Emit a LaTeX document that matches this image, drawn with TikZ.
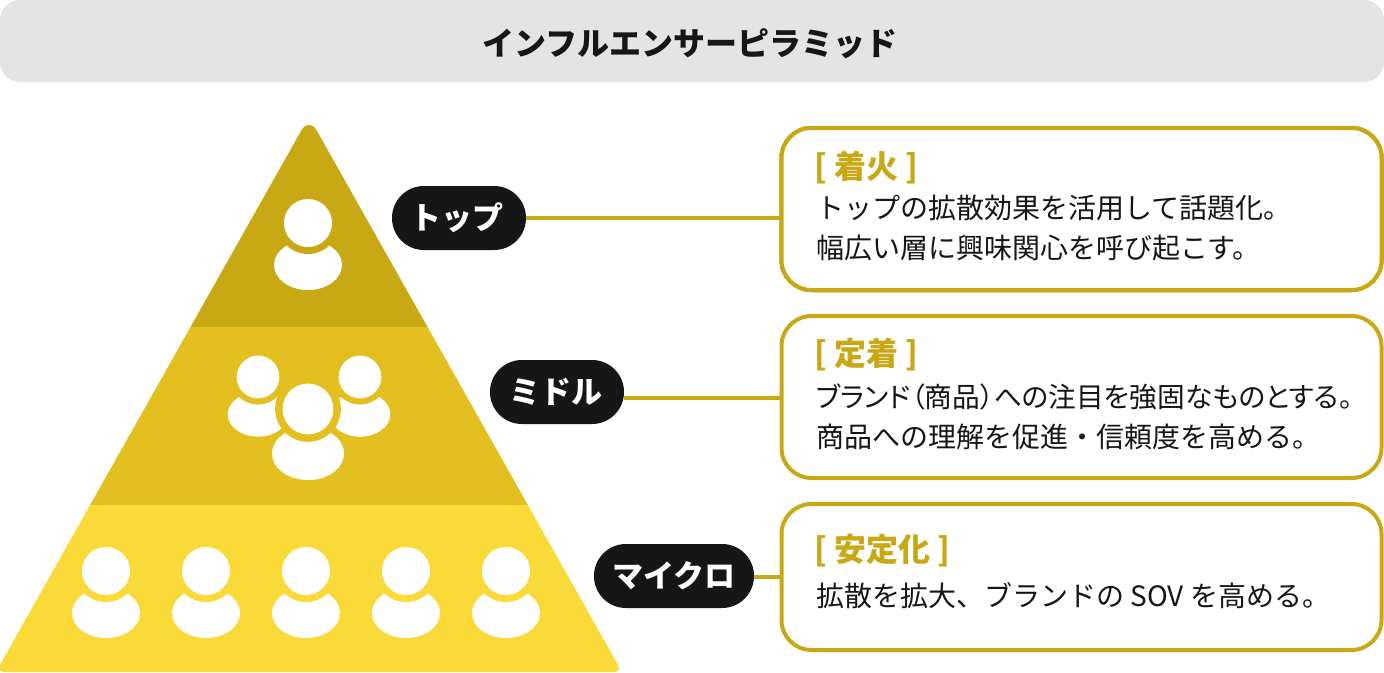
\documentclass[tikz,border=0pt]{standalone}
\usepackage{fontspec}
\setmainfont{Noto Sans CJK JP}
\newfontfamily\paltfont[RawFeature={+palt}]{Noto Sans CJK JP}
\usepackage{xcolor}
\usetikzlibrary{positioning}
\definecolor{gtop}{HTML}{C9A815}
\definecolor{gmid}{HTML}{E3BF1F}
\definecolor{glow}{HTML}{FADA38}
\definecolor{gbar}{HTML}{E4E4E4}
\definecolor{ink}{HTML}{161616}
% one figure: head, body, cut ring
\newcommand{\figperson}[4]{%
  \fill[white] (#1,#2+42*#4) ellipse[x radius=34*#4,y radius=25*#4];
  \fill[#3] (#1,#2) circle[radius=31*#4];
  \fill[white] (#1,#2) circle[radius=24*#4];
}
\begin{document}
\begin{tikzpicture}[
  x=1pt,y=-1pt,
  pill/.style={fill=ink,rounded corners=31.9pt,minimum height=64pt,inner sep=0pt,
               text=white,font=\fontsize{31}{31}\selectfont\bfseries},
  infobox/.style={draw=gtop,line width=4pt,fill=white,rounded corners=30pt,
                  minimum width=600pt,inner sep=0pt},
  headtxt/.style={anchor=west,inner sep=0pt,text=gtop,
                  font=\fontsize{32}{32}\selectfont\bfseries},
  bodytxt/.style={anchor=west,inner sep=0pt,text=ink,align=left,
                  font=\fontsize{28}{40.5}\selectfont},
  link/.style={draw=gtop,line width=4pt}
]
  \useasboundingbox (0,0) rectangle (1384,672);
  % title bar
  \node[fill=gbar,rounded corners=20pt,minimum width=1384pt,minimum height=82pt,
        inner sep=0pt] (title) at (692,41) {};
  \node[inner sep=0pt,text=ink,font=\fontsize{32}{32}\selectfont\bfseries]
    (titletxt) at (690,44) {インフルエンサーピラミッド};
  % pyramid
  \begin{scope}
    \clip (309,672) [rounded corners=8pt] -- (-4,672) -- (99.7,488) [sharp corners]
      -- (301,131) .. controls (305,123) and (313,123) .. (317,131)
      -- (518.3,488) [rounded corners=8pt] -- (622,672) -- cycle;
    \fill[gtop] (0,100) rectangle (640,327);
    \fill[gmid] (0,327) rectangle (640,505);
    \fill[glow] (-10,505) rectangle (640,680);
  \end{scope}
  \figperson{308}{223}{gtop}{1}
  \figperson{258}{377}{gmid}{.89}
  \figperson{360}{377}{gmid}{.89}
  \figperson{308}{409}{gmid}{1.06}
  \foreach \px in {106,206,306,406,506}
    \figperson{\px}{571}{glow}{1}
  % labels and boxes
  \node[infobox,minimum height=162pt] (box1) at (1081.5,209) {};
  \node[infobox,minimum height=162pt] (box2) at (1081.5,397) {};
  \node[infobox,minimum height=146pt] (box3) at (1081.5,577) {};
  \node[pill,minimum width=134pt] (top) at (459,218) {\hspace*{-4pt}トップ};
  \node[pill,minimum width=134pt] (mid) at (557,392) {\hspace*{-3pt}ミドル};
  \node[pill,minimum width=160pt] (mic) at (674,576) {マイクロ};
  \draw[link] (top) -- (box1.west |- top);
  \draw[link] (mid.east |- 0,398) -- (box2.west |- 0,398);
  \draw[link] (mic.east |- 0,577) -- (box3.west |- 0,577);
  % box texts
  \node[headtxt] (h1) at (814,168) {[ 着火 ]};
  \node[bodytxt] (b1) at (816,228) {トップの拡散効果を活用して話題化。\\幅広い層に興味関心を呼び起こす。};
  \node[headtxt] (h2) at (814,355) {[ 定着 ]};
  \node[bodytxt] (b2) at (816,417) {{\paltfont\fontsize{27.7}{40.5}\selectfont ブランド（商品）への注目を強固なものとする。}\\商品への理解を促進・信頼度を高める。};
  \node[headtxt] (h3) at (814,551) {[ 安定化 ]};
  \node[bodytxt] (b3) at (816,596) {拡散を拡大、ブランドの SOV を高める。};
\end{tikzpicture}
\end{document}
